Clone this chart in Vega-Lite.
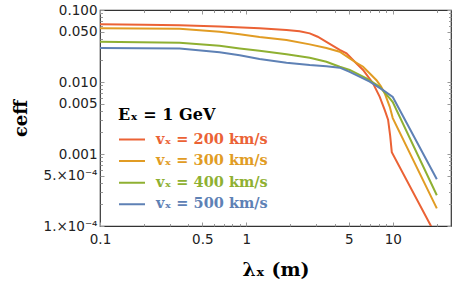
{
  "$schema": "https://vega.github.io/schema/vega-lite/v6.json",
  "width": 351,
  "height": 216,
  "autosize": "none",
  "padding": {"left": 100, "top": 10, "right": 6, "bottom": 59},
  "background": "white",
  "config": {
    "view": {"stroke": "#333", "strokeWidth": 1.2},
    "axis": {"grid": false, "domain": false, "labelFont": "DejaVu Sans", "labelFontSize": 13.5, "labelColor": "#222", "tickColor": "#999", "tickWidth": 1, "labelOverlap": false, "labelFlush": false}
  },
  "data": {
    "values": [
      {"v": "vₓ = 200 km/s", "lam": 0.1, "eps": 0.0633},
      {"v": "vₓ = 200 km/s", "lam": 0.2, "eps": 0.0625},
      {"v": "vₓ = 200 km/s", "lam": 0.35, "eps": 0.0615},
      {"v": "vₓ = 200 km/s", "lam": 0.656, "eps": 0.0588},
      {"v": "vₓ = 200 km/s", "lam": 1.23, "eps": 0.0556},
      {"v": "vₓ = 200 km/s", "lam": 1.88, "eps": 0.0527},
      {"v": "vₓ = 200 km/s", "lam": 2.31, "eps": 0.0505},
      {"v": "vₓ = 200 km/s", "lam": 2.71, "eps": 0.0474},
      {"v": "vₓ = 200 km/s", "lam": 3.07, "eps": 0.0425},
      {"v": "vₓ = 200 km/s", "lam": 3.52, "eps": 0.0362},
      {"v": "vₓ = 200 km/s", "lam": 4.34, "eps": 0.028},
      {"v": "vₓ = 200 km/s", "lam": 4.83, "eps": 0.025},
      {"v": "vₓ = 200 km/s", "lam": 5.5, "eps": 0.0191},
      {"v": "vₓ = 200 km/s", "lam": 6.27, "eps": 0.0147},
      {"v": "vₓ = 200 km/s", "lam": 7.33, "eps": 0.00957},
      {"v": "vₓ = 200 km/s", "lam": 8.15, "eps": 0.00622},
      {"v": "vₓ = 200 km/s", "lam": 8.82, "eps": 0.00406},
      {"v": "vₓ = 200 km/s", "lam": 9.29, "eps": 0.003},
      {"v": "vₓ = 200 km/s", "lam": 9.6, "eps": 0.0018},
      {"v": "vₓ = 200 km/s", "lam": 9.85, "eps": 0.00106},
      {"v": "vₓ = 200 km/s", "lam": 20, "eps": 0.0000703},
      {"v": "vₓ = 300 km/s", "lam": 0.1, "eps": 0.0556},
      {"v": "vₓ = 300 km/s", "lam": 0.35, "eps": 0.0548},
      {"v": "vₓ = 300 km/s", "lam": 0.656, "eps": 0.0499},
      {"v": "vₓ = 300 km/s", "lam": 0.9, "eps": 0.046},
      {"v": "vₓ = 300 km/s", "lam": 1.23, "eps": 0.0421},
      {"v": "vₓ = 300 km/s", "lam": 1.88, "eps": 0.0383},
      {"v": "vₓ = 300 km/s", "lam": 2.71, "eps": 0.0333},
      {"v": "vₓ = 300 km/s", "lam": 3.52, "eps": 0.0296},
      {"v": "vₓ = 300 km/s", "lam": 4.34, "eps": 0.0263},
      {"v": "vₓ = 300 km/s", "lam": 5.08, "eps": 0.0213},
      {"v": "vₓ = 300 km/s", "lam": 5.5, "eps": 0.0191},
      {"v": "vₓ = 300 km/s", "lam": 6.27, "eps": 0.0163},
      {"v": "vₓ = 300 km/s", "lam": 7.0, "eps": 0.013},
      {"v": "vₓ = 300 km/s", "lam": 7.74, "eps": 0.0106},
      {"v": "vₓ = 300 km/s", "lam": 8.3, "eps": 0.0087},
      {"v": "vₓ = 300 km/s", "lam": 8.82, "eps": 0.00693},
      {"v": "vₓ = 300 km/s", "lam": 9.54, "eps": 0.00452},
      {"v": "vₓ = 300 km/s", "lam": 10, "eps": 0.00315},
      {"v": "vₓ = 300 km/s", "lam": 20, "eps": 0.000176},
      {"v": "vₓ = 400 km/s", "lam": 0.1, "eps": 0.0362},
      {"v": "vₓ = 400 km/s", "lam": 0.35, "eps": 0.0351},
      {"v": "vₓ = 400 km/s", "lam": 0.656, "eps": 0.0319},
      {"v": "vₓ = 400 km/s", "lam": 0.9, "eps": 0.0293},
      {"v": "vₓ = 400 km/s", "lam": 1.23, "eps": 0.0272},
      {"v": "vₓ = 400 km/s", "lam": 1.88, "eps": 0.0242},
      {"v": "vₓ = 400 km/s", "lam": 2.71, "eps": 0.0217},
      {"v": "vₓ = 400 km/s", "lam": 3.52, "eps": 0.0191},
      {"v": "vₓ = 400 km/s", "lam": 4.34, "eps": 0.0163},
      {"v": "vₓ = 400 km/s", "lam": 5.08, "eps": 0.0147},
      {"v": "vₓ = 400 km/s", "lam": 6.61, "eps": 0.0112},
      {"v": "vₓ = 400 km/s", "lam": 8.15, "eps": 0.00858},
      {"v": "vₓ = 400 km/s", "lam": 9.54, "eps": 0.00591},
      {"v": "vₓ = 400 km/s", "lam": 10, "eps": 0.00525},
      {"v": "vₓ = 400 km/s", "lam": 20, "eps": 0.000267},
      {"v": "vₓ = 500 km/s", "lam": 0.1, "eps": 0.0296},
      {"v": "vₓ = 500 km/s", "lam": 0.35, "eps": 0.0293},
      {"v": "vₓ = 500 km/s", "lam": 0.656, "eps": 0.0258},
      {"v": "vₓ = 500 km/s", "lam": 0.9, "eps": 0.0236},
      {"v": "vₓ = 500 km/s", "lam": 1.23, "eps": 0.0208},
      {"v": "vₓ = 500 km/s", "lam": 1.88, "eps": 0.0185},
      {"v": "vₓ = 500 km/s", "lam": 2.71, "eps": 0.0172},
      {"v": "vₓ = 500 km/s", "lam": 3.52, "eps": 0.0166},
      {"v": "vₓ = 500 km/s", "lam": 4.34, "eps": 0.0158},
      {"v": "vₓ = 500 km/s", "lam": 5.08, "eps": 0.0138},
      {"v": "vₓ = 500 km/s", "lam": 6.96, "eps": 0.0101},
      {"v": "vₓ = 500 km/s", "lam": 8.59, "eps": 0.00771},
      {"v": "vₓ = 500 km/s", "lam": 10, "eps": 0.0062},
      {"v": "vₓ = 500 km/s", "lam": 20, "eps": 0.000446}
    ]
  },
  "layer": [
    {
      "mark": {"type": "line", "strokeWidth": 2, "clip": true},
      "encoding": {
        "x": {
          "field": "lam", "type": "quantitative",
          "scale": {"type": "log", "domain": [0.1, 25], "nice": false},
          "axis": {
            "orient": "bottom",
            "title": "λₓ (m)",
            "titleFont": "DejaVu Serif", "titleFontWeight": "bold", "titleFontSize": 19, "titleColor": "black",
            "titleY": 49.5, "titleBaseline": "alphabetic",
            "values": [0.1, 0.2, 0.3, 0.4, 0.5, 0.6, 0.7, 0.8, 0.9, 1, 2, 3, 4, 5, 6, 7, 8, 9, 10, 20],
            "labelExpr": "datum.value == 0.1 ? '0.1' : datum.value == 0.5 ? '0.5' : datum.value == 1 ? '1' : datum.value == 5 ? '5' : datum.value == 10 ? '10' : ''",
            "tickSize": {"condition": {"test": "indexof([0.1, 0.5, 1, 5, 10], datum.value) >= 0", "value": -4}, "value": -2.5},
            "labelPadding": 10
          }
        },
        "y": {
          "field": "eps", "type": "quantitative",
          "scale": {"type": "log", "domain": [0.0001, 0.1], "nice": false},
          "axis": {
            "orient": "left",
            "title": "ϵeff",
            "titleFont": "DejaVu Serif", "titleFontWeight": "bold", "titleFontSize": 18, "titleColor": "black",
            "titleX": -79, "titleY": 108, "titleAngle": -90, "titleAlign": "center", "titleBaseline": "middle",
            "values": [0.0001, 0.0002, 0.0003, 0.0004, 0.0005, 0.0006, 0.0007, 0.0008, 0.0009, 0.001, 0.002, 0.003, 0.004, 0.005, 0.006, 0.007, 0.008, 0.009, 0.01, 0.02, 0.03, 0.04, 0.05, 0.06, 0.07, 0.08, 0.09, 0.1],
            "labelExpr": "datum.value == 0.1 ? '0.100' : datum.value == 0.05 ? '0.050' : datum.value == 0.01 ? '0.010' : datum.value == 0.005 ? '0.005' : datum.value == 0.001 ? '0.001' : datum.value == 0.0005 ? '5.×10⁻⁴' : datum.value == 0.0001 ? '1.×10⁻⁴' : ''",
            "tickSize": {"condition": {"test": "indexof([0.1, 0.05, 0.01, 0.005, 0.001, 0.0005, 0.0001], datum.value) >= 0", "value": -4}, "value": -2.5},
            "labelPadding": 7
          }
        },
        "color": {
          "field": "v", "type": "nominal",
          "scale": {"domain": ["vₓ = 200 km/s", "vₓ = 300 km/s", "vₓ = 400 km/s", "vₓ = 500 km/s"], "range": ["#EB6235", "#E19C24", "#8FB032", "#5E81B5"]},
          "legend": {
            "orient": "none", "legendX": 18, "legendY": 97, "padding": 0,
            "title": "Eₓ = 1 GeV",
            "titleFont": "DejaVu Serif", "titleFontWeight": "bold", "titleFontSize": 16, "titleColor": "black", "titlePadding": 8,
            "symbolType": "stroke", "symbolSize": 676, "symbolStrokeWidth": 2,
            "labelFont": "DejaVu Serif", "labelFontWeight": "bold", "labelFontSize": 14.5, "labelOffset": 10,
            "clipHeight": 17, "rowPadding": 4.6,
            "encode": {"labels": {"update": {"fill": {"scale": "color", "field": "value"}}}}
          }
        }
      }
    },
    {
      "mark": {"type": "point", "opacity": 0},
      "encoding": {
        "x": {
          "field": "lam", "type": "quantitative",
          "axis": {
            "orient": "top", "title": null, "labels": false,
            "values": [0.1, 0.2, 0.3, 0.4, 0.5, 0.6, 0.7, 0.8, 0.9, 1, 2, 3, 4, 5, 6, 7, 8, 9, 10, 20],
            "tickSize": {"condition": {"test": "indexof([0.1, 0.5, 1, 5, 10], datum.value) >= 0", "value": -4}, "value": -2.5}
          }
        },
        "y": {
          "field": "eps", "type": "quantitative",
          "axis": {
            "orient": "right", "title": null, "labels": false,
            "values": [0.0001, 0.0002, 0.0003, 0.0004, 0.0005, 0.0006, 0.0007, 0.0008, 0.0009, 0.001, 0.002, 0.003, 0.004, 0.005, 0.006, 0.007, 0.008, 0.009, 0.01, 0.02, 0.03, 0.04, 0.05, 0.06, 0.07, 0.08, 0.09, 0.1],
            "tickSize": {"condition": {"test": "indexof([0.1, 0.05, 0.01, 0.005, 0.001, 0.0005, 0.0001], datum.value) >= 0", "value": -4}, "value": -2.5}
          }
        }
      }
    }
  ],
  "resolve": {"axis": {"x": "independent", "y": "independent"}}
}
